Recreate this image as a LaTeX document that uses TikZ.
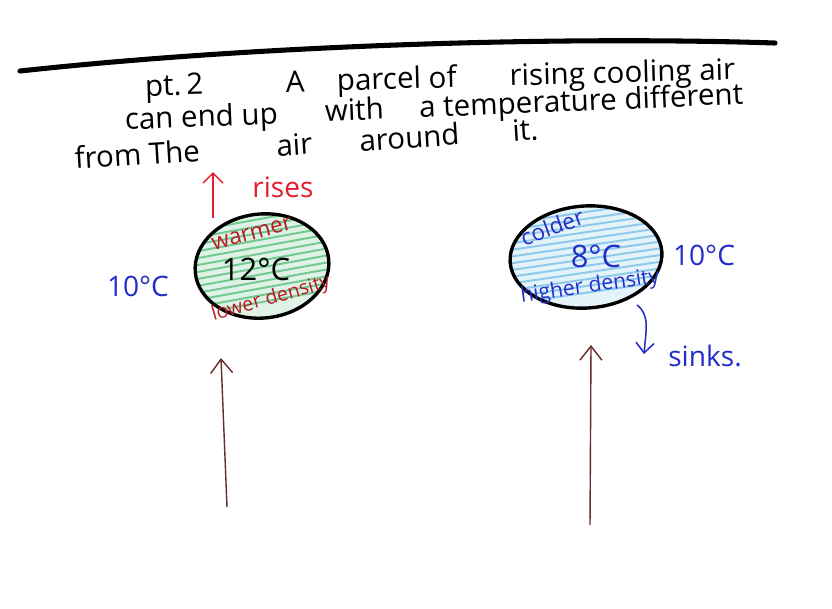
\documentclass[tikz,border=0pt]{standalone}
\usepackage{fontspec}
\setmainfont{Open Sans}
\usepackage{xcolor}
\usetikzlibrary{arrows.meta,positioning,calc,shapes.geometric}

\definecolor{inkblue}{RGB}{35,45,200}
\definecolor{inkred}{RGB}{228,30,45}
\definecolor{inkdred}{RGB}{185,25,35}
\definecolor{inkbrown}{RGB}{105,45,40}
\definecolor{hatchgreen}{RGB}{70,185,110}
\definecolor{hatchblue}{RGB}{105,185,230}

\begin{document}
\begin{tikzpicture}[
    x=0.025cm, y=-0.025cm,
    >={Straight Barb[length=3.5mm,width=5.5mm]},
    hand/.style={font=\fontsize{#1}{#1}\selectfont, inner sep=0pt},
    hand/.default=21,
    parcel/.style={ellipse, draw=black, line width=2.4pt, inner sep=0pt,
                   fill=#1!18, path picture={
                     \foreach \k in {1,...,15}
                       \draw[#1, line width=1.4pt, opacity=0.7]
                         ($(path picture bounding box.north west)!\k/16!(path picture bounding box.south west)$)
                         -- ++(4cm,0.3cm);}},
    risearr/.style={->, line width=1.1pt, color=inkred},
    sinkarr/.style={->, line width=1.1pt, color=inkblue},
    liftarr/.style={->, line width=1pt, color=inkbrown},
  ]
  \useasboundingbox (0,0) rectangle (832,608);
  \fill[white] (0,0) rectangle (832,608);

  % rule at the top
  \draw[line width=3.6pt, line cap=round] (20,71) .. controls (260,45) and (560,36) .. (775,43);

  % heading
  \node[hand, anchor=base west, rotate=1.6] (head1) at (145,96)
    {pt.\,2\hspace{2.8em}A\hspace{1.1em}parcel of\hspace{1.8em}rising cooling air};
  \node[hand, anchor=base west, rotate=2.4] (head2) at (125,130)
    {can end up\hspace{1.6em}with\hspace{1.2em}a temperature different};
  \node[hand, anchor=base west, rotate=3.6] (head3) at (75,169)
    {from The\hspace{2.6em}air\hspace{1.6em}around\hspace{1.8em}it.};

  % warm parcel
  \node[parcel=hatchgreen, minimum width=3.35cm, minimum height=2.6cm, rotate=6] (warm) at (262,266) {};
  \node[hand=16, text=inkdred, rotate=15] (warmer) at (252,234) {warmer};
  \node[hand=22] (warmtemp) at (256,269) {12°C};
  \node[hand=14, text=inkdred, rotate=16] (lowden) at (271,299) {lower density};
  \node[hand=20, text=inkblue] (warmenv) at (138,286) {10°C};
  \node[hand=20, text=inkred] (rises) at (283,187) {rises};
  \coordinate (risebase) at (213,218);
  \coordinate (risetip) at (213,172);
  \draw[risearr, >={Straight Barb[length=2.5mm,width=5mm]}] (risebase) -- (risetip);

  % cold parcel
  \node[parcel=hatchblue, minimum width=3.8cm, minimum height=2.55cm, rotate=4] (cold) at (586,257) {};
  \node[hand=16, text=inkblue, rotate=20] (colder) at (552,227) {colder};
  \node[hand=22, text=inkblue] (coldtemp) at (596,256) {8°C};
  \node[hand=15, text=inkblue, rotate=8] (highden) at (590,287) {higher density};
  \node[hand=20, text=inkblue] (coldenv) at (704,255) {10°C};
  \node[hand=20, text=inkblue, anchor=west] (sinks) at (668,356) {sinks.};
  \coordinate (sinkbase) at (637,305);
  \coordinate (sinktip) at (644,354);
  \draw[sinkarr, >={Straight Barb[length=2.5mm,width=4.5mm]}]
    (sinkbase) .. controls (650,315) and (646,330) .. (sinktip);

  % long lifting arrows
  \coordinate (warmfoot) at (227,507);
  \coordinate (warmhead) at (221,358);
  \coordinate (coldfoot) at (590,525);
  \coordinate (coldhead) at (591,345);
  \draw[liftarr] (warmfoot) -- (warmhead);
  \draw[liftarr] (coldfoot) -- (coldhead);
\end{tikzpicture}
\end{document}
